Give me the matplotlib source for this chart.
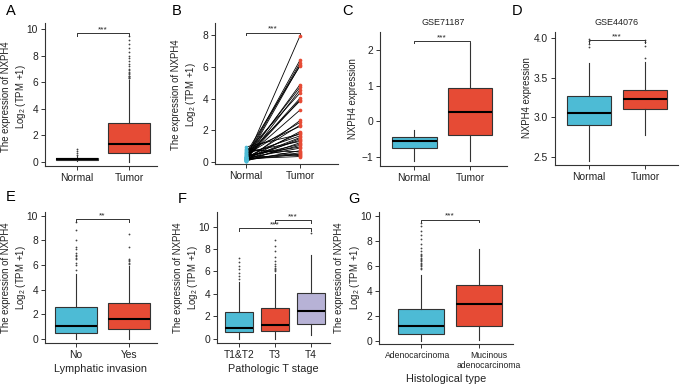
import matplotlib
matplotlib.use('Agg')
import matplotlib.pyplot as plt
from matplotlib.transforms import ScaledTranslation

plt.rcParams['font.family'] = ['Liberation Sans', 'DejaVu Sans']
plt.rcParams['mathtext.fontset'] = 'custom'
plt.rcParams['mathtext.rm'] = 'Liberation Sans'
plt.rcParams['mathtext.it'] = 'Liberation Sans:italic'

BLUE = '#4DBBD5'
RED = '#E64B35'
PURPLE = '#B7B2D6'
EDGE = '#333333'

# ---------------- data ----------------
# Panel A: box stats (q1, median, q3, whisker low, whisker high)
a_groups = ['Normal', 'Tumor']
a_stats = [(0.17, 0.24, 0.31, 0.05, 0.45), (0.7, 1.35, 2.9, 0.0, 6.2)]
a_fliers = [[0.55, 0.7, 0.85, 1.0],
            [6.3, 6.35, 6.4, 6.45, 6.5, 6.6, 6.7, 6.8, 6.9, 7.0, 7.2, 7.4,
             7.6, 7.8, 8.0, 8.3, 8.6, 8.9, 9.2, 9.5]]

# Panel B: paired samples
b_groups = ['Normal', 'Tumor']
b_normal = [0.15, 0.3, 0.22, 0.1, 0.55, 0.2, 0.35, 0.12, 0.6, 0.25, 0.18, 0.4,
            0.3, 0.08, 0.45, 0.22, 0.7, 0.15, 0.3, 0.95, 0.5, 0.2, 0.12, 0.28,
            0.62, 0.05, 0.33, 0.18, 0.42, 0.25, 0.1, 0.75, 0.2, 0.15, 0.3, 0.85, 0.22]
b_tumor = [7.95, 6.42, 6.25, 6.12, 6.05, 4.88, 4.72, 4.55, 4.35, 4.02, 3.92, 3.85,
           3.28, 2.62, 2.5, 2.32, 2.25, 1.92, 1.82, 1.75, 1.65, 1.55, 1.48, 1.38,
           1.3, 1.22, 1.12, 1.05, 0.95, 0.88, 0.72, 0.65, 0.58, 0.5, 0.45, 0.4, 0.35]

# Panel C: GSE71187
c_groups = ['Normal', 'Tumor']
c_stats = [(-0.75, -0.55, -0.43, -1.1, -0.25), (-0.38, 0.25, 0.92, -1.12, 2.2)]
c_fliers = [[], []]

# Panel D: GSE44076
d_groups = ['Normal', 'Tumor']
d_stats = [(2.90, 3.055, 3.265, 2.445, 3.685), (3.11, 3.23, 3.35, 2.78, 3.70)]
d_fliers = [[3.88, 3.92, 3.96, 3.99], [3.75, 3.9, 3.95, 3.98]]

# Panel E: Lymphatic invasion
e_groups = ['No', 'Yes']
e_stats = [(0.51, 1.06, 2.58, 0.0, 5.3), (0.79, 1.65, 2.92, 0.0, 5.95)]
e_fliers = [[5.6, 6.0, 6.2, 6.5, 6.6, 6.7, 6.8, 7.0, 7.3, 7.5, 8.0, 8.8, 9.5],
            [6.1, 6.2, 6.3, 6.4, 6.5, 7.5, 8.5]]

# Panel F: Pathologic T stage
f_groups = ['T1&T2', 'T3', 'T4']
f_stats = [(0.56, 1.0, 2.38, 0.0, 5.07), (0.65, 1.25, 2.7, 0.0, 5.8),
           (1.3, 2.45, 4.05, 0.35, 7.43)]
f_fliers = [[5.3, 5.6, 5.9, 6.2, 6.5, 6.8, 7.2],
            [6.0, 6.1, 6.2, 6.3, 6.5, 6.7, 6.9, 7.3, 7.8, 8.3, 8.8],
            [9.4]]

# Panel G: Histological type
g_groups = ['Adenocarcinoma', 'Mucinous\nadenocarcinoma']
g_stats = [(0.61, 1.25, 2.6, 0.0, 5.3), (1.2, 2.97, 4.5, 0.13, 7.4)]
g_fliers = [[5.8, 5.9, 6.0, 6.1, 6.2, 6.3, 6.4, 6.5, 6.6, 6.7, 6.8, 6.9, 7.0,
             7.2, 7.5, 7.8, 8.2, 8.5, 8.8, 9.2, 9.5], []]

# ---------------- layout ----------------
W, H = 680, 387
fig = plt.figure(figsize=(6.8, 3.87), dpi=100)

TICK_FS = 7.4
YLAB_FS = 6.9


def add_ax(l, t, r, b):
    ax = fig.add_axes([l / W, 1 - b / H, (r - l) / W, (b - t) / H])
    for s in ['top', 'right']:
        ax.spines[s].set_visible(False)
    for s in ['left', 'bottom']:
        ax.spines[s].set_color(EDGE)
        ax.spines[s].set_linewidth(0.8)
    ax.tick_params(length=3, width=0.7, color=EDGE, labelsize=TICK_FS,
                   labelcolor='#222222', pad=2)
    return ax


def boxes(ax, stats, fliers, colors, labels, width=0.8):
    st = []
    for (q1, med, q3, lo, hi), fl in zip(stats, fliers):
        st.append(dict(q1=q1, med=med, q3=q3, whislo=lo, whishi=hi, fliers=fl))
    pos = list(range(1, len(st) + 1))
    bp = ax.bxp(st, positions=pos, widths=width, patch_artist=True,
                showcaps=False,
                boxprops=dict(edgecolor=EDGE, linewidth=0.8),
                medianprops=dict(color='black', linewidth=1.5),
                whiskerprops=dict(color=EDGE, linewidth=0.8),
                flierprops=dict(marker='o', markersize=1.3,
                                markerfacecolor='#444444',
                                markeredgecolor='none'))
    for p, c in zip(bp['boxes'], colors):
        p.set_facecolor(c)
    ax.set_xticks(pos)
    ax.set_xticklabels(labels)


def bracket(ax, x1, x2, y, h, text, fs=6):
    ax.plot([x1, x1, x2, x2], [y - h, y, y, y - h], color=EDGE, lw=0.7,
            clip_on=False)
    ax.text((x1 + x2) / 2, y, text, ha='center', va='bottom', fontsize=fs,
            color='#222222')


def ylabel2(x, y, text, fs=YLAB_FS):
    fig.text(x / W, 1 - y / H, text, rotation=90, ha='center', va='center',
             multialignment='center', fontsize=fs, color='#222222',
             linespacing=1.3)


def panel_letter(x, y, s):
    fig.text(x / W, 1 - y / H, s, fontsize=10.5, ha='left', va='center')


YL = 'The expression of NXPH4\nLog$_2$ (TPM +1)'

# A
axA = add_ax(45, 23, 157, 166)
boxes(axA, a_stats, a_fliers, [BLUE, RED], a_groups)
axA.set_xlim(0.385, 2.54)
axA.set_ylim(-0.3, 10.45)
axA.set_yticks([0, 2, 4, 6, 8, 10])
bracket(axA, 1, 2, 9.7, 0.2, '***')
ylabel2(15, 97, YL)
panel_letter(6, 11, 'A')

# B
axB = add_ax(215, 23, 338, 164)
for n, t in zip(b_normal, b_tumor):
    axB.plot([1, 2], [n, t], color='black', lw=0.6, zorder=2)
axB.scatter([1] * len(b_normal), b_normal, s=7, color=BLUE, zorder=3,
            linewidths=0)
axB.scatter([2] * len(b_tumor), b_tumor, s=7, color=RED, zorder=3,
            linewidths=0)
axB.set_xticks([1, 2])
axB.set_xticklabels(b_groups)
axB.set_xlim(0.43, 2.70)
axB.set_ylim(-0.12, 8.75)
axB.set_yticks([0, 2, 4, 6, 8])
bracket(axB, 1, 2, 8.15, 0.15, '***')
ylabel2(185, 95, YL)
panel_letter(172, 11, 'B')

# C
axC = add_ax(380, 32, 507, 166)
boxes(axC, c_stats, c_fliers, [BLUE, RED], c_groups)
axC.set_xlim(0.39, 2.66)
axC.set_ylim(-1.25, 2.5)
axC.set_yticks([-1, 0, 1, 2])
axC.set_yticklabels(['\u22121', '0', '1', '2'])
bracket(axC, 1, 2, 2.25, 0.07, '***')
axC.set_title('GSE71187', fontsize=6.5, pad=5, color='#222222')
ylabel2(353, 99, 'NXPH4 expression')
panel_letter(342, 11, 'C')

# D
axD = add_ax(555, 32, 678, 165)
boxes(axD, d_stats, d_fliers, [BLUE, RED], d_groups)
axD.set_xlim(0.39, 2.59)
axD.set_ylim(2.4, 4.075)
axD.set_yticks([2.5, 3.0, 3.5, 4.0])
axD.set_yticklabels(['2.5', '3.0', '3.5', '4.0'])
bracket(axD, 1, 2, 3.97, 0.03, '***')
axD.set_title('GSE44076', fontsize=6.5, pad=5, color='#222222')
ylabel2(527, 98, 'NXPH4 expression')
panel_letter(512, 11, 'D')

# E
axE = add_ax(45, 212, 157, 343)
boxes(axE, e_stats, e_fliers, [BLUE, RED], e_groups)
axE.set_xlim(0.415, 2.53)
axE.set_ylim(-0.33, 10.3)
axE.set_yticks([0, 2, 4, 6, 8, 10])
bracket(axE, 1, 2, 9.7, 0.2, '**')
axE.set_xlabel('Lymphatic invasion', fontsize=7.8, labelpad=3,
               color='#222222')
ylabel2(15, 278, YL)
panel_letter(6, 197, 'E')

# F
axF = add_ax(217, 212, 330, 343)
boxes(axF, f_stats, f_fliers, [BLUE, RED, PURPLE], f_groups)
axF.set_xlim(0.39, 3.53)
axF.set_ylim(-0.38, 11.3)
axF.set_yticks([0, 2, 4, 6, 8, 10])
bracket(axF, 1, 3, 9.85, 0.2, '***')
bracket(axF, 2, 3, 10.55, 0.2, '***')
axF.set_xlabel('Pathologic T stage', fontsize=7.8, labelpad=3,
               color='#222222')
ylabel2(186, 278, YL)
panel_letter(178, 199, 'F')

# G
axG = add_ax(379, 212, 513, 344)
boxes(axG, g_stats, g_fliers, [BLUE, RED], g_groups)
axG.set_xlim(0.28, 2.59)
axG.set_ylim(-0.2, 10.35)
axG.set_yticks([0, 2, 4, 6, 8, 10])
axG.tick_params(axis='x', labelsize=6.2)
glabs = axG.get_xticklabels()
for lab in glabs:
    lab.set_linespacing(1.15)
glabs[0].set_transform(glabs[0].get_transform() +
                       ScaledTranslation(-3 / 100, 0, fig.dpi_scale_trans))
glabs[1].set_transform(glabs[1].get_transform() +
                       ScaledTranslation(10 / 100, 0, fig.dpi_scale_trans))
bracket(axG, 1, 2, 9.75, 0.2, '***')
axG.set_xlabel('Histological type', fontsize=7.8, labelpad=3,
               color='#222222')
ylabel2(348, 278, YL)
panel_letter(348, 199, 'G')

fig.savefig('out.png', dpi=100)
